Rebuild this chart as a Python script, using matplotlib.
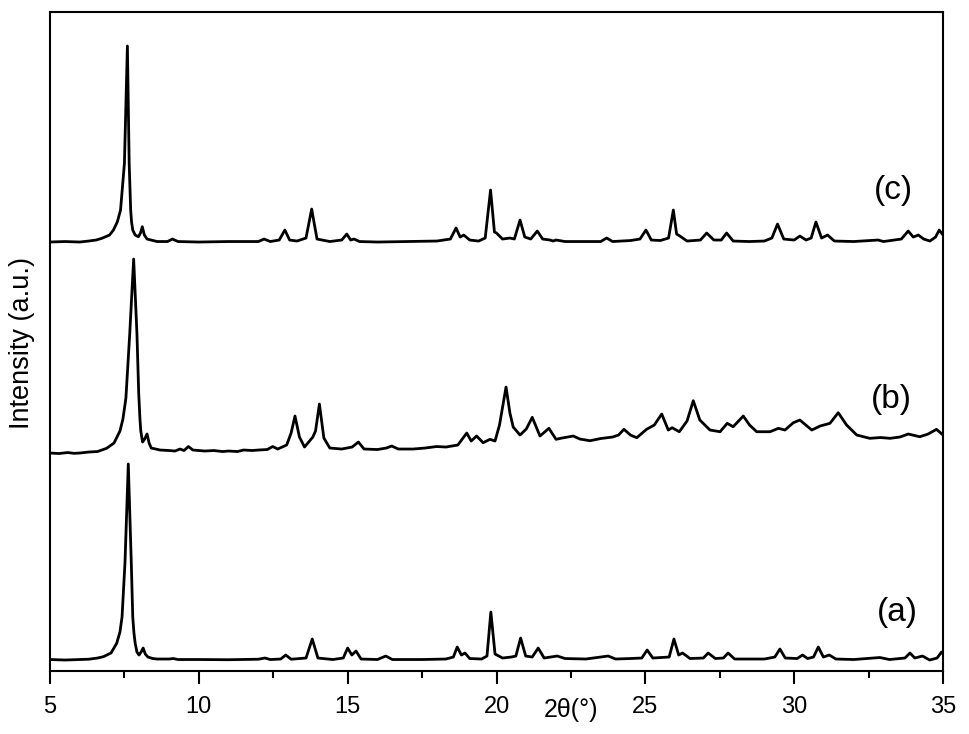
import matplotlib
matplotlib.use("Agg")
import matplotlib.pyplot as plt
from matplotlib.ticker import MultipleLocator

plt.rcParams['font.family'] = ['Liberation Sans', 'DejaVu Sans']

# XRD patterns, (2theta [deg], intensity [a.u.])
pattern_a = [
    (5.0, 0.5), (5.5, 0), (6.0, 0.5), (6.3, 0.8), (6.6, 2), (6.79, 3.3), (7.05, 7), (7.24, 16.7),
    (7.35, 28), (7.42, 43), (7.52, 98), (7.63, 196), (7.73, 98), (7.78, 43), (7.82, 27),
    (7.86, 17), (7.92, 8), (7.99, 5), (8.06, 8), (8.13, 12), (8.2, 6), (8.29, 3), (8.45, 1.5),
    (8.6, 1), (9.0, 1), (9.14, 1.5), (9.3, 0.5), (10.0, 0.5),
    (11.0, 0.3), (12.0, 0.8), (12.22, 2), (12.4, 0.5), (12.75, 1), (12.92, 5), (13.1, 0.8),
    (13.6, 2), (13.81, 21), (14.0, 2), (14.5, 0.5), (14.85, 2), (15.0, 12), (15.14, 5),
    (15.28, 9), (15.45, 1), (16.0, 0.5), (16.28, 4), (16.5, 0.5), (17.5, 0.5), (18.3, 1),
    (18.55, 3), (18.68, 13), (18.82, 5), (18.94, 7), (19.1, 1.5), (19.5, 1), (19.68, 4),
    (19.81, 48), (19.95, 6), (20.2, 2), (20.5, 3), (20.65, 4), (20.81, 22), (20.98, 4),
    (21.2, 3), (21.40, 12), (21.6, 2), (22.04, 4), (22.3, 1.5), (23.0, 1), (23.75, 4),
    (24.0, 1), (24.5, 1.5), (24.88, 2), (25.06, 10), (25.25, 2), (25.8, 3), (25.96, 21),
    (26.12, 5), (26.25, 7), (26.5, 1.5), (26.95, 2), (27.11, 7), (27.35, 1.5), (27.62, 2),
    (27.78, 7), (28.0, 1), (29.0, 1), (29.35, 3), (29.52, 11), (29.7, 2), (30.1, 1.5),
    (30.28, 5), (30.45, 1.5), (30.65, 3), (30.81, 13), (30.98, 3), (31.18, 5), (31.4, 1),
    (32.0, 0.5), (32.88, 2.5), (33.2, 0.5), (33.72, 2), (33.89, 7), (34.05, 2), (34.31, 4),
    (34.55, 0), (34.8, 2), (34.95, 8), (35.0, 6),
]

pattern_b = [
    (5.0, 0), (5.3, -0.5), (5.6, 0.5), (5.8, -0.3), (6.0, 0), (6.3, 1), (6.6, 1.5), (6.9, 4.7),
    (7.15, 10), (7.35, 22), (7.45, 34), (7.55, 55), (7.68, 120), (7.81, 194), (7.92, 120),
    (7.98, 60), (8.02, 35), (8.05, 22), (8.11, 11), (8.18, 14), (8.26, 19), (8.33, 10),
    (8.4, 5), (8.7, 3), (9.0, 2.5), (9.2, 2), (9.37, 4), (9.5, 2.5), (9.65, 6.5), (9.8, 3),
    (10.2, 2), (10.5, 2.5), (10.8, 1.5), (11.0, 2), (11.3, 1.5), (11.5, 3), (11.8, 2.5),
    (12.0, 3), (12.3, 3.5), (12.48, 6.5), (12.65, 4), (12.95, 8), (13.1, 20), (13.23, 37),
    (13.38, 16), (13.55, 6), (13.83, 16), (13.92, 22), (14.05, 49), (14.2, 15), (14.4, 5),
    (14.8, 4), (15.15, 6), (15.36, 11), (15.55, 4), (16.0, 3.5), (16.3, 5), (16.48, 7),
    (16.7, 4), (17.2, 4), (17.6, 5), (17.99, 6.5), (18.3, 6), (18.7, 8), (19.0, 20),
    (19.15, 12), (19.33, 17), (19.55, 10.3), (19.78, 13.7), (19.95, 12), (20.1, 28),
    (20.32, 66), (20.45, 40), (20.56, 26), (20.79, 18), (21.0, 24), (21.20, 35.7),
    (21.46, 17), (21.76, 24.7), (22.0, 13.7), (22.2, 15), (22.58, 17), (22.8, 14),
    (23.14, 12.3), (23.5, 14.5), (23.9, 16), (24.1, 18), (24.28, 23.7), (24.5, 18),
    (24.71, 15.3), (25.04, 23.7), (25.3, 28), (25.55, 39), (25.77, 23), (25.90, 25.3),
    (26.14, 21.3), (26.4, 32), (26.61, 52.3), (26.83, 33), (27.17, 23), (27.51, 21.3),
    (27.75, 29.7), (27.95, 26.3), (28.29, 37), (28.5, 28), (28.74, 21.3), (29.19, 21.3),
    (29.47, 24.7), (29.69, 23), (29.97, 30.3), (30.19, 33), (30.59, 23), (30.87, 27),
    (31.20, 29.7), (31.48, 40.3), (31.76, 28), (32.10, 18), (32.54, 14.7), (32.9, 15.5),
    (33.22, 14.7), (33.55, 16), (33.83, 19), (34.22, 16.3), (34.5, 19), (34.78, 23.7),
    (35.0, 18),
]

pattern_c = [
    (5.0, 0), (5.5, 0.5), (6.0, 0), (6.3, 1), (6.55, 2), (6.74, 3.7), (7.0, 7), (7.13, 12),
    (7.26, 20), (7.37, 32), (7.50, 78.7), (7.60, 196), (7.66, 78.7), (7.71, 32), (7.74, 20),
    (7.78, 12), (7.86, 7), (7.97, 5.3), (8.04, 9), (8.10, 15.3), (8.17, 7), (8.26, 3),
    (8.6, 0.5), (8.95, 0.5), (9.11, 3), (9.3, 0.5), (10.0, 0),
    (11.0, 0.5), (12.0, 0.5), (12.19, 3), (12.4, 0.5), (12.7, 2), (12.89, 12), (13.05, 2),
    (13.3, 1), (13.6, 4), (13.79, 33), (13.97, 3), (14.4, 0.5), (14.8, 2), (14.97, 8),
    (15.1, 2), (15.21, 3), (15.4, 0.5), (16.0, 0), (17.0, 0.5), (18.0, 1), (18.45, 3),
    (18.64, 14), (18.78, 5), (18.90, 7), (19.1, 2), (19.4, 1), (19.62, 4), (19.80, 52),
    (19.93, 10), (20.0, 9), (20.2, 3), (20.45, 4), (20.6, 3), (20.79, 22), (20.95, 5),
    (21.15, 3), (21.37, 11), (21.55, 3), (21.8, 2), (21.9, 1), (22.0, 2), (22.3, 0.5),
    (23.0, 0.5), (23.5, 0.5), (23.7, 4), (23.9, 0.5), (24.5, 1.5), (24.82, 3), (25.02, 12),
    (25.2, 2), (25.5, 1.5), (25.78, 4), (25.94, 32), (26.05, 8), (26.16, 6), (26.4, 1),
    (26.85, 2), (27.06, 9), (27.3, 2), (27.55, 2), (27.73, 9), (27.95, 1), (28.5, 0.5),
    (29.0, 1), (29.25, 4), (29.44, 18), (29.65, 3), (30.0, 2), (30.19, 6), (30.4, 2),
    (30.57, 4), (30.73, 20), (30.92, 4), (31.12, 7), (31.35, 1), (32.0, 0.5), (32.82, 2),
    (33.0, 0.5), (33.6, 3), (33.83, 11), (34.0, 5), (34.17, 7), (34.35, 3), (34.56, 1),
    (34.75, 5), (34.87, 12), (35.0, 7),
]

labels = ["(a)", "(b)", "(c)"]

fig = plt.figure(figsize=(9.69, 7.34), dpi=100)
ax = fig.add_axes([0.0516, 0.0858, 0.9216, 0.8978])

# vertical stacking of the three patterns
offsets = [11, 218, 429]
label_pos = [(33.45, 59), (33.27, 272), (33.33, 481)]

for pat, off, lab, pos in zip([pattern_a, pattern_b, pattern_c], offsets, labels, label_pos):
    xs = [p[0] for p in pat]
    ys = [p[1] + off for p in pat]
    ax.plot(xs, ys, color='black', lw=2.0, solid_joinstyle='round')
    ax.text(pos[0], pos[1], lab, fontsize=24, ha='center', va='center')

ax.set_xlim(5, 35)
ax.set_ylim(0, 659)
ax.xaxis.set_major_locator(MultipleLocator(5))
ax.xaxis.set_minor_locator(MultipleLocator(2.5))
ax.set_yticks([])
ax.tick_params(axis='x', which='major', direction='out', length=9, width=1.5, labelsize=17, pad=9)
ax.tick_params(axis='x', which='minor', direction='out', length=5, width=1.5)
for s in ax.spines.values():
    s.set_linewidth(1.5)

fig.text(571 / 969, 1 - 710 / 734, "2θ(°)", fontsize=18, ha='center', va='center')
fig.text(22 / 969, 1 - 343 / 734, "Intensity (a.u.)", fontsize=19.5, ha='center', va='center', rotation=90)

fig.savefig("out.png", dpi=100)
